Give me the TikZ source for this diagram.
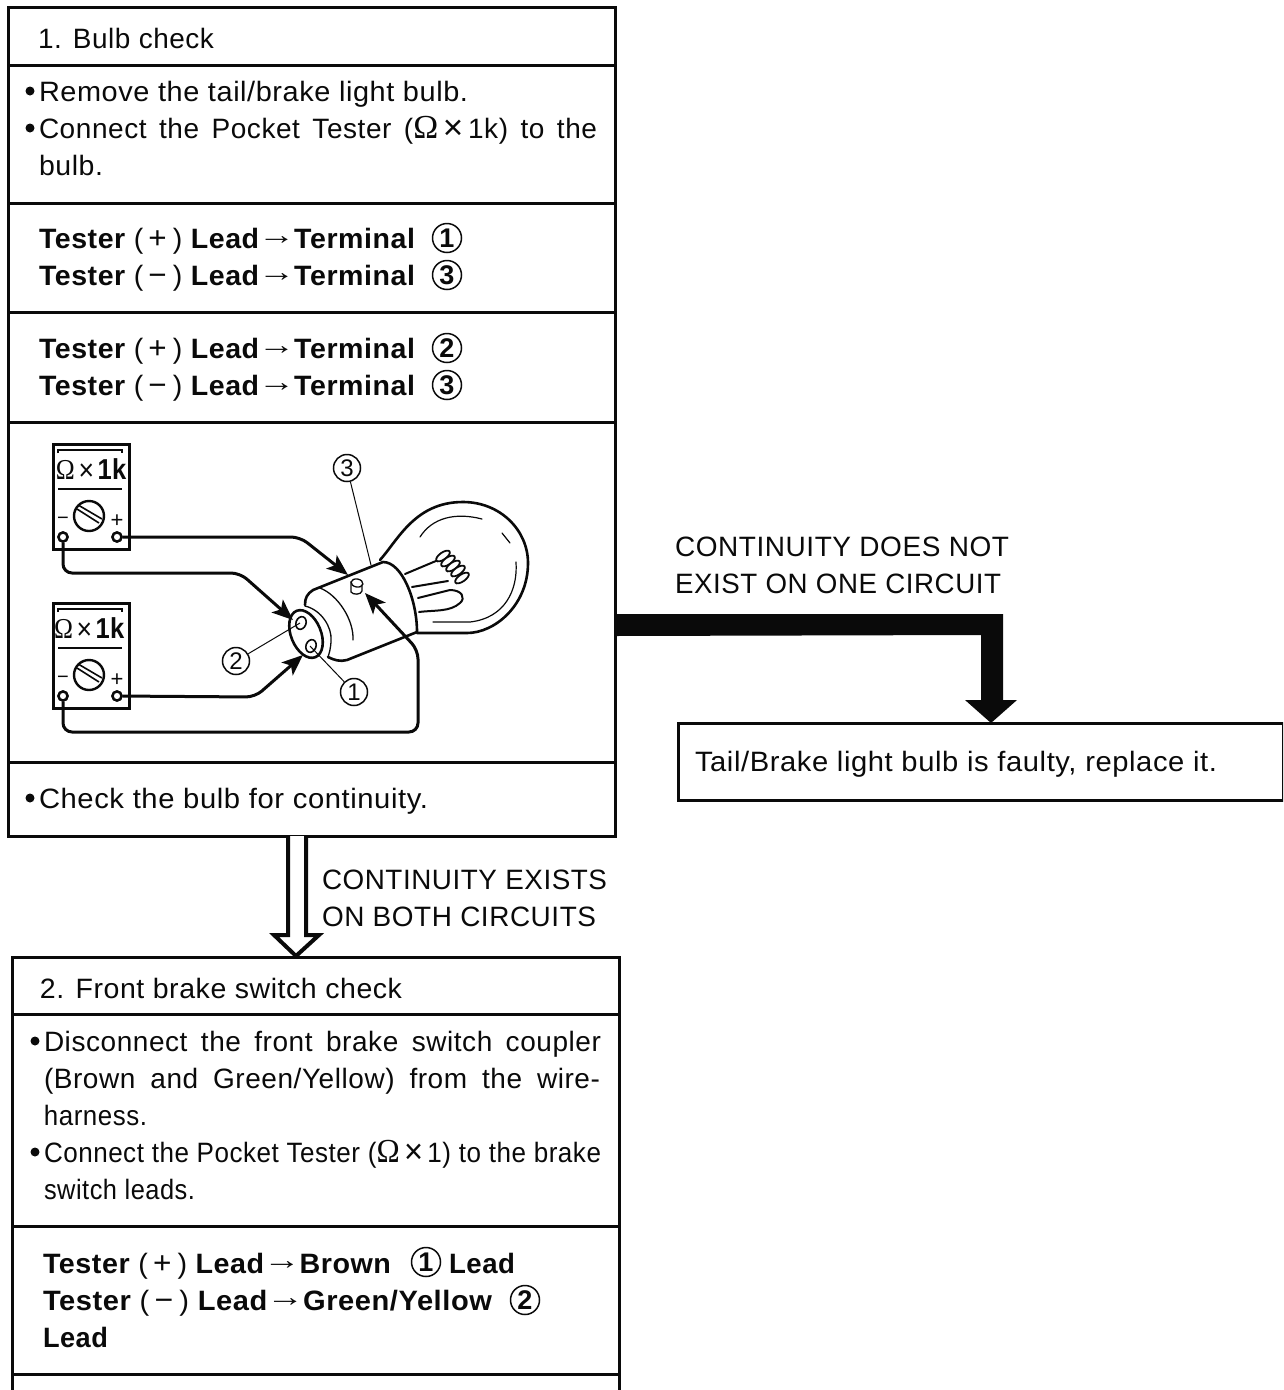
\documentclass[tikz,border=0pt]{standalone}
\usepackage{graphicx}
\usepackage{fontspec}
\setmainfont[LetterSpace=2]{Liberation Sans}
\newfontfamily\omfont{Liberation Serif}
\usetikzlibrary{arrows.meta,calc}
\definecolor{ink}{gray}{0.04}
\newcommand{\fw}[2]{\resizebox{#1pt}{\height}{#2}}
\newcommand{\sw}[2]{\makebox[#1pt][s]{#2}}
\newcommand{\Om}{\scalebox{1.2}{\omfont Ω}}
\newcommand{\Tm}{\raisebox{-1.8pt}{\scalebox{1.25}{×}}}
\newcommand{\Ar}{\hspace{-1pt}\raisebox{4pt}{\mdseries\scalebox{1.3}[1]{→}}\hspace{-1pt}}
\newcommand{\TP}{Tester {\mdseries(\hspace{5pt}\scalebox{1.1}{+}\hspace{6pt})} Lead\Ar}
\newcommand{\TM}{Tester {\mdseries(\hspace{5pt}\scalebox{1.1}{−}\hspace{6pt})} Lead\Ar}
\tikzset{
  rowbox/.style={draw=ink,line width=3pt,anchor=north west,inner sep=0pt,outer sep=0pt,minimum width=#1},
  txt/.style={anchor=base west,inner sep=0pt,outer sep=0pt,text=ink,font=\fontsize{28}{34}\selectfont},
  btxt/.style={txt,font=\fontsize{28}{34}\selectfont\bfseries},
  dot/.style={circle,fill=ink,inner sep=0pt,minimum size=9pt},
  num/.style={draw=ink,circle,line width=1.5pt,inner sep=0pt,minimum size=27pt,text=ink,font=\fontsize{24}{24}\selectfont},
  bnum/.style={num,minimum size=29pt,font=\fontsize{27}{27}\selectfont\bfseries},
  wire/.style={draw=ink,line width=3pt,rounded corners=9pt,-{Stealth[length=21pt,width=17pt,inset=5pt]}},
  leader/.style={draw=ink,line width=1pt},
  bulbl/.style={draw=ink,line width=2.6pt,line cap=round,line join=round},
  bulbt/.style={draw=ink,line width=1.3pt,line cap=round},
  term/.style={draw=ink,circle,line width=2.4pt,fill=white,inner sep=0pt,minimum size=9pt},
  meterbox/.style={draw=ink,line width=3pt,anchor=north west,inner sep=0pt,minimum width=76pt,minimum height=105pt},
  hollow/.style={draw=ink,fill=white,line width=4pt,line join=miter},
  solidarrow/.style={fill=ink,draw=none}
}
% name, x offset of scale text, y of box top
\newcommand{\meterdraw}[3]{%
  \node[meterbox] (#1box) at (52,#3) {};
  \draw[draw=ink,line width=1.5pt] ($(#1box.north west)+(6,10)$) -- ++(0,-3) -- ++(64,0) -- ++(0,3);
  \draw[draw=ink,line width=1.8pt] ($(#1box.north west)+(6,46)$) -- ++(64,0);
  \node[txt,font=\fontsize{24}{24}\selectfont] (#1scale) at ($(#1box.north west)+(#2,36)$) {\fw{71}{\Om\,\Tm\,\scalebox{1.2}{\textbf{1k}}}};
  \node[draw=ink,circle,line width=2.4pt,minimum size=30pt,inner sep=0pt] (#1dial) at ($(#1box.north west)+(37,73)$) {};
  \draw[draw=ink,line width=1.6pt] ($(#1dial)+(-12,-7)$) -- ($(#1dial)+(10,7)$);
  \draw[draw=ink,line width=1.6pt] ($(#1dial)+(-10,-10.5)$) -- ($(#1dial)+(13,3)$);
  \node[txt,anchor=center,font=\fontsize{20}{20}\selectfont] (#1minus) at ($(#1box.north west)+(11,78)$) {−};
  \node[txt,anchor=center,font=\fontsize{22}{22}\selectfont] (#1plus) at ($(#1box.north west)+(65,78)$) {+};
  \node[term] (#1m) at ($(#1box.north west)+(11,94)$) {};
  \node[term] (#1p) at ($(#1box.north west)+(65,94)$) {};
}
\begin{document}
\begin{tikzpicture}[x=1pt,y=-1pt]
\useasboundingbox (0,0) rectangle (1283,1390);
\clip (0,0) rectangle (1283,1390);
\fill[white] (0,0) rectangle (1283,1390);

% Box 1
\node[rowbox=607pt,minimum height=58pt] (ra) at (8,7) {};
\node[rowbox=607pt,minimum height=138pt] (rb) at (8,65) {};
\node[rowbox=607pt,minimum height=109pt] (rc) at (8,203) {};
\node[rowbox=607pt,minimum height=110pt] (rd) at (8,312) {};
\node[rowbox=607pt,minimum height=340pt] (re) at (8,422) {};
\node[rowbox=607pt,minimum height=74pt] (rf) at (8,762) {};

\node[txt] (ta) at (38,48) {\fw{176}{1. Bulb check}};
\node[dot] (db1) at (30,91) {};
\node[txt] (tb1) at (39,101) {\fw{429}{Remove the tail/brake light bulb.}};
\node[dot] (db2) at (30,128) {};
\node[txt] (tb2) at (39,138) {\sw{558}{Connect the Pocket Tester (\Om\,\Tm\,1k) to the}};
\node[txt] (tb3) at (39,175) {\fw{64}{bulb.}};
\node[btxt] (tc1) at (39,248) {\fw{376}{\TP Terminal}};
\node[bnum] (nc1) at (447,238) {1};
\node[btxt] (tc2) at (39,285) {\fw{376}{\TM Terminal}};
\node[bnum] (nc2) at (447,275) {3};
\node[btxt] (td1) at (39,358) {\fw{376}{\TP Terminal}};
\node[bnum] (nd1) at (447,348) {2};
\node[btxt] (td2) at (39,395) {\fw{376}{\TM Terminal}};
\node[bnum] (nd2) at (447,385) {3};
\node[dot] (df) at (30,798) {};
\node[txt] (tf) at (39,808) {\fw{389}{Check the bulb for continuity.}};

% Bulb
\coordinate (pinA) at (300,623);
\coordinate (pinB) at (310,646);
\coordinate (pinC) at (357,585);
\draw[bulbl] (380,560) .. controls (398,540) and (415,502) .. (463,502) .. controls (500,502) and (528,530) .. (528,563) .. controls (528,605) and (495,633) .. (467,633) -- (417,633);
\draw[bulbl] (313,590) -- (383,562) .. controls (402,562) and (417,600) .. (417,632) -- (347,660) .. controls (340,662) and (334,660) .. (328,657);
\draw[bulbl] (313,590) .. controls (307,594) and (305,598) .. (305,605);
\draw[bulbt] (320,588) .. controls (338,595) and (354,620) .. (353,640);
\draw[bulbt] (305,606) .. controls (322,610) and (332,628) .. (331,640) .. controls (331,648) and (329,654) .. (328,657);
\draw[bulbl,rotate around={22:(306,634)}] (306,634) ellipse (15 and 25);
\draw[bulbt,line width=1.6pt,rotate around={-20:(301,623)}] (301,623) ellipse (5 and 6.5);
\draw[bulbt,line width=1.6pt,rotate around={-20:(311,646)}] (311,646) ellipse (5 and 6.5);
% terminal 3 stud
\draw[bulbt,fill=white] (351,582) -- (351,592) .. controls (353,595) and (361,595) .. (362,591) -- (362,582);
\draw[bulbt,fill=white,rotate around={-10:(357,583)}] (357,583) ellipse (6 and 4);
% filament and glass highlights
\draw[bulbl,line width=2pt] (405,574) -- (443,558);
\draw[bulbl,line width=2pt] (412,587) -- (448,581);
\draw[bulbl,line width=2pt] (418,598) -- (450,590) .. controls (462,590) and (466,598) .. (460,603) .. controls (450,612) and (435,610) .. (419,612);
\foreach \cx/\cy in {443/556,448/561,453/566,458/571,462/578}{
  \draw[bulbt,line width=1.8pt,fill=white,rotate around={35:(\cx,\cy)}] (\cx,\cy) ellipse (8 and 3.5);
}
\draw[bulbt,line width=1.2pt] (420,537) .. controls (432,518) and (455,512) .. (482,519);
\draw[bulbt,line width=1.2pt] (502,533) -- (510,543);
\draw[bulbt,line width=1.2pt] (516,562) .. controls (518,590) and (505,618) .. (470,622) -- (433,622);

% Meters
\meterdraw{ma}{4}{443}
\meterdraw{mb}{2}{602}

% Wires
\coordinate (tipA) at (293,620);
\coordinate (tipB) at (303,655);
\coordinate (tipC) at (348,575);
\coordinate (tipD) at (365,593);
\draw[wire] (map) -- (300,537) -- (tipC);
\draw[wire] (mam) -- (63,573) -- (240,573) -- (tipA);
\draw[wire] (mbp) -- (255,697) -- (tipB);
\draw[wire] (mbm) -- (63,732) -- (418,732) -- (418,650) -- (tipD);
\node[term] (mapcap) at (map) {};
\node[term] (mamcap) at (mam) {};
\node[term] (mbpcap) at (mbp) {};
\node[term] (mbmcap) at (mbm) {};

% Callouts
\node[num] (n3) at (347,468) {3};
\node[num] (n1) at (354,692) {1};
\node[num] (n2) at (236,661) {2};
\draw[leader] (n3) -- (371,565);
\draw[leader] (n1) -- (pinB);
\draw[leader] (n2) -- (pinA);

\node[txt] (ca1) at (322,889) {\fw{285}{CONTINUITY EXISTS}};
\node[txt] (ca2) at (322,926) {\fw{274}{ON BOTH CIRCUITS}};

% Box 2
\node[rowbox=607pt,minimum height=57pt] (sa) at (12,957) {};
\node[rowbox=607pt,minimum height=212pt] (sb) at (12,1014) {};
\node[rowbox=607pt,minimum height=148pt] (sc) at (12,1226) {};
\node[rowbox=607pt,minimum height=100pt] (sd) at (12,1374) {};
\node[txt] (tsa) at (40,998) {\fw{362}{2. Front brake switch check}};
\node[dot] (ds1) at (35,1041) {};
\node[txt] (tsb1) at (44,1051) {\sw{557}{Disconnect the front brake switch coupler}};
\node[txt] (tsb2) at (44,1088) {\sw{556}{(Brown and Green/Yellow) from the wire-}};
\node[txt] (tsb3) at (44,1125) {\fw{103}{harness.}};
\node[dot] (ds2) at (35,1152) {};
\node[txt] (tsb4) at (44,1162) {\fw{557}{Connect the Pocket Tester (\Om\,\Tm\,1) to the brake}};
\node[txt] (tsb5) at (44,1199) {\fw{151}{switch leads.}};
\node[btxt] (tsc1) at (43,1273) {\fw{348}{\TP Brown}};
\node[bnum] (ns1) at (426,1262) {1};
\node[btxt] (tsc1b) at (449,1273) {\fw{66}{Lead}};
\node[btxt] (tsc2) at (43,1310) {\fw{449}{\TM Green/Yellow}};
\node[bnum] (ns2) at (525,1300) {2};
\node[btxt] (tsc3) at (43,1347) {\fw{65}{Lead}};

% Right box
\node[rowbox=605pt,minimum height=77pt] (fa) at (678,723) {};
\node[txt] (tfa) at (695,771) {\fw{522}{Tail/Brake light bulb is faulty, replace it.}};
\node[txt] (cb1) at (675,556) {\fw{334}{CONTINUITY DOES NOT}};
\node[txt] (cb2) at (675,593) {\fw{326}{EXIST ON ONE CIRCUIT}};

% Hollow arrow
\coordinate (hs) at ($(rf.south)+(-14.5,0)$);
\coordinate (ht) at ($(sa.north)+(-19.5,0)$);
\draw[hollow] ($(hs)+(-9,0)$) -- ($(ht)+(-8,-22)$) -- ($(ht)+(-22,-22)$) -- ($(ht)+(0,-1)$) -- ($(ht)+(23,-22)$) -- ($(ht)+(10,-22)$) -- ($(hs)+(9,0)$);

% Solid elbow arrow
\coordinate (ks) at ($(re.east)+(0,33)$);
\coordinate (kt) at ($(fa.north)+(10.5,0)$);
\fill[solidarrow] ($(ks)+(0,-11)$) -- (1003,614) -- ($(kt)+(12,-23)$) -- ($(kt)+(26,-23)$) -- (kt) -- ($(kt)+(-26,-23)$) -- ($(kt)+(-10,-23)$) -- ($(kt)+(-10,-88)$) -- ($(ks)+(0,11)$) -- cycle;
\end{tikzpicture}
\end{document}
